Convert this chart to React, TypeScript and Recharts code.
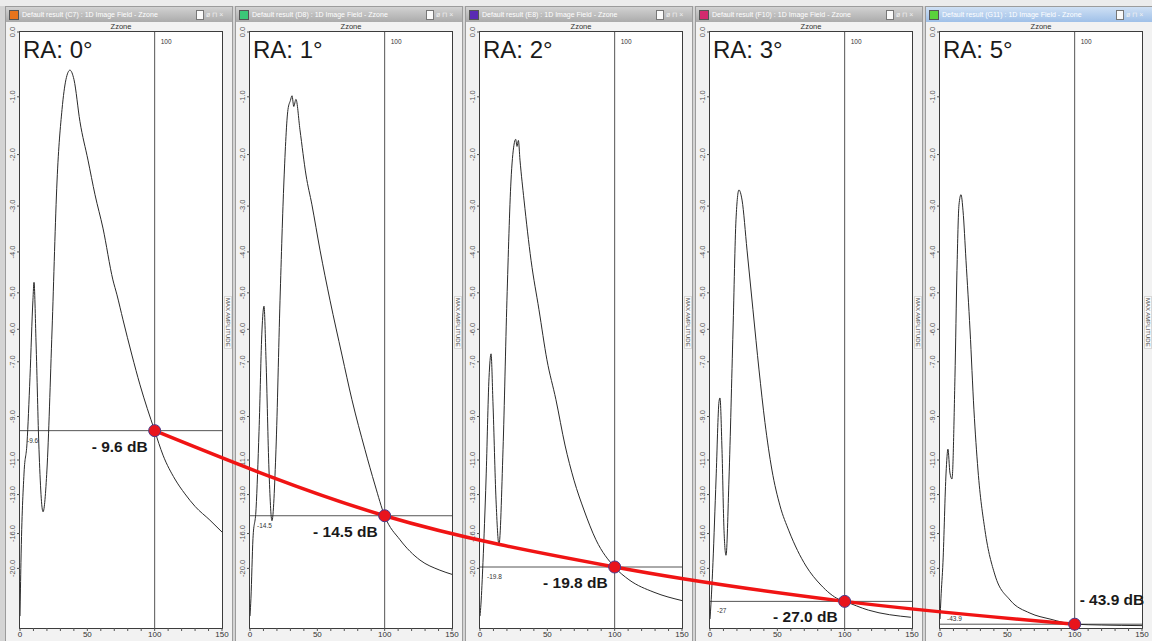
import React from 'react';
import { LineChart, Line, XAxis, YAxis, ReferenceLine, LabelList } from 'recharts';

// ---------- data ----------
const PANEL_TITLES = ['RA: 0°', 'RA: 1°', 'RA: 2°', 'RA: 3°', 'RA: 5°'];
const WINDOW_CELLS = ['C7', 'D8', 'E8', 'F10', 'G11'];
const ICON_COLORS = ['#e8741c', '#3cc878', '#5a2ab4', '#d22a6e', '#5ad23c'];
const DB_AT_100 = [-9.6, -14.5, -19.8, -27.0, -43.9];
const REF_LABELS = ['-9.6', '-14.5', '-19.8', '-27', '-43.9'];
const Y_TICK_DB = [0, -1, -2, -3, -4, -5, -6, -7, -9, -11, -13, -16, -20];
const X_TICKS = [0, 10, 20, 30, 40, 50, 60, 70, 80, 90, 100, 110, 120, 130, 140, 150];

const RA0_X = [0, 0.7, 3, 5.2, 7.4, 9.6, 10.4, 11.9, 14.1, 17.1, 20, 23.8, 27.5, 31.2, 34.1, 37.1, 40.1, 44.5, 50.5, 55.7, 61.6, 69, 72, 76.5, 83.1, 89.1, 100, 106.2, 115, 122.5, 130, 141, 150];
const RA0_AMP = [0.02, 0.11, 0.26, 0.31, 0.42, 0.55, 0.58, 0.48, 0.3, 0.195, 0.265, 0.5, 0.75, 0.87, 0.92, 0.936, 0.92, 0.85, 0.785, 0.727, 0.671, 0.584, 0.559, 0.517, 0.458, 0.408, 0.331, 0.29, 0.25, 0.225, 0.204, 0.181, 0.161];

const RA1_X = [0, 0.7, 2.2, 4.5, 6.7, 8.9, 10.4, 11.9, 14.1, 16.3, 19.3, 22.3, 25.2, 28.2, 30, 31.2, 32.5, 34.1, 37.1, 41.6, 46, 52, 59.4, 68.3, 75.7, 85.4, 92.8, 100, 111.4, 126.2, 141, 150];
const RA1_AMP = [0.02, 0.05, 0.15, 0.2, 0.33, 0.5, 0.54, 0.45, 0.265, 0.18, 0.3, 0.55, 0.75, 0.87, 0.885, 0.893, 0.875, 0.887, 0.836, 0.76, 0.71, 0.634, 0.55, 0.458, 0.383, 0.299, 0.24, 0.188, 0.148, 0.114, 0.097, 0.09];

const RA2_X = [0, 0.7, 2.2, 4.5, 6.7, 8.2, 9.6, 11.9, 14.1, 17.1, 20, 23, 25.2, 26.5, 27.5, 28.5, 29.7, 32.7, 37.9, 43.8, 49.7, 56.4, 63.1, 69.8, 77.2, 86.1, 100, 110.6, 129.2, 150];
const RA2_AMP = [0.02, 0.04, 0.11, 0.25, 0.42, 0.46, 0.38, 0.215, 0.14, 0.3, 0.55, 0.75, 0.81, 0.82, 0.808, 0.818, 0.785, 0.718, 0.617, 0.534, 0.45, 0.383, 0.307, 0.248, 0.198, 0.148, 0.102, 0.081, 0.06, 0.046];

const RA3_X = [0, 0.7, 2.2, 4.5, 6.7, 7.4, 8.9, 10.4, 11.9, 14.1, 17.1, 19.3, 21.5, 23.8, 27.5, 31.9, 36.4, 40.8, 46, 52, 58.6, 65, 71.3, 82.4, 95.8, 100, 117.6, 149.2];
const RA3_AMP = [0.015, 0.04, 0.11, 0.25, 0.38, 0.386, 0.3, 0.164, 0.122, 0.25, 0.5, 0.685, 0.735, 0.718, 0.634, 0.534, 0.433, 0.345, 0.265, 0.205, 0.163, 0.13, 0.104, 0.072, 0.048, 0.0447, 0.03, 0.018];

const RA5_X = [0, 0.7, 2.2, 4.5, 5.9, 7.4, 8.9, 11.1, 12.6, 14.1, 15.6, 17.1, 19.3, 22.3, 25.2, 28.2, 33.4, 40.8, 52, 66.8, 81.7, 100, 120, 150];
const RA5_AMP = [0.015, 0.05, 0.11, 0.26, 0.3, 0.26, 0.25, 0.42, 0.6, 0.71, 0.727, 0.7, 0.617, 0.5, 0.366, 0.265, 0.164, 0.089, 0.047, 0.025, 0.015, 0.0064, 0.005, 0.004];

const PANEL_X = [RA0_X, RA1_X, RA2_X, RA3_X, RA5_X];
const PANEL_AMP = [RA0_AMP, RA1_AMP, RA2_AMP, RA3_AMP, RA5_AMP];

// ---------- layout ----------
const W = 1152;
const H = 641;
const PANEL_STEP = 230;
const PLOT_LEFT = 20;
const PLOT_W = 202;
const PLOT_TOP = 32;
const PLOT_BOTTOM = 628;
const PX_PER_UNIT = PLOT_W / 150;
const FONT = '"Liberation Sans", Arial, sans-serif';

const dbToAmp = (db: number) => Math.pow(10, db / 20);
const Y_TICKS = Y_TICK_DB.map(dbToAmp);

const RotTick = (props: any) => {
  const { x, y, payload } = props;
  const db = Math.round(20 * Math.log10(payload.value) * 10) / 10;
  const txt = db.toFixed(1);
  return (
    <text
      x={x}
      y={y}
      transform={`rotate(-90 ${x} ${y})`}
      textAnchor="middle"
      fontSize={7.5}
      fill="#555"
      fontFamily={FONT}
    >
      {txt}
    </text>
  );
};

function Panel({ i }: { i: number }) {
  const data = PANEL_X[i].map((x, k) => ({ x, amp: PANEL_AMP[i][k] }));
  const refAmp = dbToAmp(DB_AT_100[i]);
  const left = i * PANEL_STEP;
  const active = i === 4;
  return (
    <div style={{ position: 'absolute', left, top: 0, width: PANEL_STEP, height: H }}>
      {/* window */}
      <div
        style={{
          position: 'absolute', left: 5, top: 6, width: 228, height: H, boxSizing: 'border-box',
          background: '#f2f2f2', border: '1px solid #9c9c9c',
        }}
      />
      {/* title bar */}
      <div
        style={{
          position: 'absolute', left: 6, top: 7, width: 226, height: 15,
          background: active ? 'linear-gradient(#cfe0f4, #9fc0e8)' : 'linear-gradient(#d2d2d2, #ababab)',
          fontFamily: FONT, fontSize: 7, color: '#ffffff', lineHeight: '15px', whiteSpace: 'nowrap', overflow: 'hidden',
        }}
      >
        <span
          style={{
            position: 'absolute', left: 3, top: 3, width: 8, height: 8,
            background: ICON_COLORS[i], border: '1px solid #555',
          }}
        />
        <span style={{ position: 'absolute', left: 16, top: 0 }}>
          {`Default result (${WINDOW_CELLS[i]}) : 1D Image Field - Zzone`}
        </span>
        <span
          style={{
            position: 'absolute', left: 190, top: 3, width: 6, height: 8,
            background: '#fafafa', border: '1px solid #777',
          }}
        />
        <span style={{ position: 'absolute', left: 200, top: 0, color: '#f0f0f0' }}>ø ⊓ ×</span>
      </div>
      {/* Zzone header */}
      <div
        style={{
          position: 'absolute', left: PLOT_LEFT, top: 22, width: PLOT_W, textAlign: 'center',
          fontFamily: FONT, fontSize: 7.5, color: '#333', lineHeight: '10px',
        }}
      >
        Zzone
      </div>
      {/* plot background & frame */}
      <div
        style={{
          position: 'absolute', left: PLOT_LEFT - 1, top: PLOT_TOP - 1, width: PLOT_W + 2,
          height: PLOT_BOTTOM - PLOT_TOP + 2, boxSizing: 'border-box', background: '#ffffff',
          border: '1px solid #3c3c3c',
        }}
      />
      {/* right side label */}
      <div
        style={{
          position: 'absolute', left: 224, top: 296, writingMode: 'vertical-rl',
          fontFamily: FONT, fontSize: 6, color: '#444', background: '#fafafa',
          border: '1px solid #d8d8d8', padding: '1px 0',
        }}
      >
        MAX AMPLITUDE
      </div>
      <LineChart
        width={PANEL_STEP}
        height={H}
        data={data}
        margin={{ top: PLOT_TOP, right: PANEL_STEP - PLOT_LEFT - PLOT_W, bottom: 0, left: 0 }}
        style={{ position: 'absolute', left: 0, top: 0 }}
      >
        <XAxis
          type="number"
          dataKey="x"
          domain={[0, 150]}
          ticks={X_TICKS}
          interval={0}
          height={H - PLOT_BOTTOM}
          tickSize={3}
          tickMargin={0}
          axisLine={false}
          tickLine={{ stroke: '#555' }}
          tick={{ fontSize: 8, fill: '#333', fontFamily: FONT }}
          tickFormatter={(v: number) => (v % 50 === 0 ? String(v) : '')}
          allowDataOverflow
        />
        <YAxis
          type="number"
          domain={[0, 1]}
          ticks={Y_TICKS}
          interval={0}
          width={PLOT_LEFT}
          tickSize={3}
          tickMargin={2}
          axisLine={false}
          tickLine={{ stroke: '#555' }}
          tick={<RotTick />}
          allowDataOverflow
        />
        <ReferenceLine
          x={100}
          stroke="#555"
          strokeWidth={1}
          label={(p: any) => (
            <text x={p.viewBox.x + 6} y={p.viewBox.y + 12} fontSize={6.5} fill="#333" fontFamily={FONT}>
              100
            </text>
          )}
        />
        <ReferenceLine
          y={refAmp}
          stroke="#555"
          strokeWidth={1}
          label={(p: any) => {
            const below = p.viewBox.y + 12;
            const yy = below > PLOT_BOTTOM - 2 ? p.viewBox.y - 3 : below;
            return (
              <text x={p.viewBox.x + 7} y={yy} fontSize={6.5} fill="#333" fontFamily={FONT}>
                {REF_LABELS[i]}
              </text>
            );
          }}
        />
        <Line
          type="monotone"
          dataKey="amp"
          stroke="#2a2a2a"
          strokeWidth={1}
          dot={false}
          isAnimationActive={false}
        />
      </LineChart>
      {/* RA title */}
      <div
        style={{
          position: 'absolute', left: PLOT_LEFT + 3, top: 36, fontFamily: FONT, fontSize: 24,
          color: '#1a1a1a', lineHeight: '28px', whiteSpace: 'nowrap',
        }}
      >
        {PANEL_TITLES[i]}
      </div>
    </div>
  );
}

const PANEL_SHIFT_UNITS = PANEL_STEP / PX_PER_UNIT;
const OVERLAY_DATA = DB_AT_100.map((db, i) => ({
  g: i * PANEL_SHIFT_UNITS + 100,
  amp: dbToAmp(db),
  db,
}));

const DbLabel = (props: any) => {
  const x = props.x ?? props.viewBox?.x;
  const y = props.y ?? props.viewBox?.y;
  const { value, index } = props;
  const last = index === DB_AT_100.length - 1;
  const txt = `- ${Math.abs(Number(value)).toFixed(1)} dB`;
  return (
    <text
      x={last ? x + 5 : x - 7}
      y={last ? y - 19 : y + 21}
      textAnchor={last ? 'start' : 'end'}
      fontSize={15.5}
      fontWeight="bold"
      fill="#1a1a1a"
      fontFamily={FONT}
    >
      {txt}
    </text>
  );
};

export default function App() {
  return (
    <div
      style={{
        position: 'absolute', left: 0, top: 0, width: W, height: H, overflow: 'hidden',
        background: '#d4d4d4',
      }}
    >
      <div style={{ position: 'absolute', left: 0, top: 0, width: W, height: 6, background: '#ececec' }} />
      {PANEL_TITLES.map((_, i) => (
        <Panel key={i} i={i} />
      ))}
      <LineChart
        width={W}
        height={H}
        data={OVERLAY_DATA}
        margin={{ top: PLOT_TOP, right: W - (PLOT_LEFT + 4 * PANEL_STEP + PLOT_W), bottom: H - PLOT_BOTTOM, left: PLOT_LEFT }}
        style={{ position: 'absolute', left: 0, top: 0, pointerEvents: 'none' }}
      >
        <XAxis type="number" dataKey="g" domain={[0, 4 * PANEL_SHIFT_UNITS + 150]} hide />
        <YAxis type="number" domain={[0, 1]} hide />
        <Line
          type="monotone"
          dataKey="amp"
          stroke="#f01414"
          strokeWidth={3.5}
          dot={{ r: 6, fill: '#e8141c', stroke: '#4a3a8a', strokeWidth: 1 }}
          isAnimationActive={false}
        >
          <LabelList dataKey="db" content={DbLabel} />
        </Line>
      </LineChart>
    </div>
  );
}
